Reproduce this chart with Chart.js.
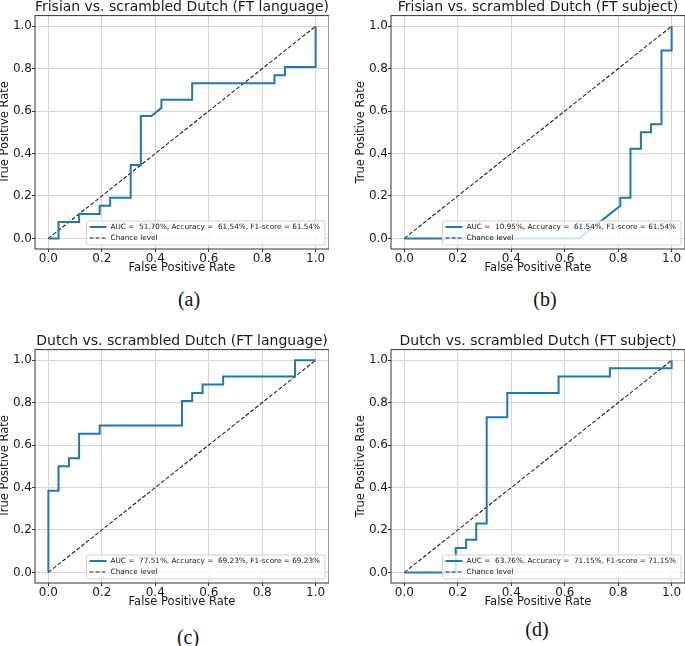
<!DOCTYPE html>
<html>
<head>
<meta charset="utf-8">
<script src="https://cdn.jsdelivr.net/npm/chart.js@4.4.1/dist/chart.umd.min.js"></script>
<style>
  body { margin: 0; background: #fff; }
  #fig { position: relative; width: 685px; height: 646px; overflow: hidden; }
  canvas { position: absolute; }
  .cap { position: absolute; width: 60px; text-align: center; font: 20px "Liberation Serif", serif; color: #111; }
</style>
</head>
<body>
<div id="fig">
  <canvas id="rocA" width="331" height="279" style="left:-2px;top:0px;width:331px;height:279px"></canvas>
  <canvas id="rocB" width="331" height="279" style="left:354px;top:0px;width:331px;height:279px"></canvas>
  <canvas id="rocC" width="331" height="279" style="left:-2px;top:334px;width:331px;height:279px"></canvas>
  <canvas id="rocD" width="331" height="279" style="left:354px;top:334px;width:331px;height:279px"></canvas>
  <div class="cap" style="left:159px;top:288px">(a)</div>
  <div class="cap" style="left:515px;top:288px">(b)</div>
  <div class="cap" style="left:158px;top:626px">(c)</div>
  <div class="cap" style="left:507px;top:618px">(d)</div>
</div>
<script>
// ROC curve points
const fprA = [0, 0.038, 0.038, 0.115, 0.115, 0.192, 0.192, 0.231, 0.231, 0.308, 0.308, 0.346, 0.346, 0.385, 0.423, 0.423, 0.538, 0.538, 0.846, 0.846, 0.885, 0.885, 1.0, 1.0];
const tprA = [0, 0, 0.077, 0.077, 0.115, 0.115, 0.154, 0.154, 0.192, 0.192, 0.346, 0.346, 0.577, 0.577, 0.615, 0.654, 0.654, 0.731, 0.731, 0.769, 0.769, 0.808, 0.808, 1.0];

const fprB = [0, 0.654, 0.808, 0.808, 0.846, 0.846, 0.885, 0.885, 0.923, 0.923, 0.962, 0.962, 1.0, 1.0];
const tprB = [0, 0, 0.154, 0.192, 0.192, 0.423, 0.423, 0.5, 0.5, 0.538, 0.538, 0.885, 0.885, 1.0];

const fprC = [0, 0, 0.038, 0.038, 0.077, 0.077, 0.115, 0.115, 0.192, 0.192, 0.5, 0.5, 0.538, 0.538, 0.577, 0.577, 0.654, 0.654, 0.923, 0.923, 1.0];
const tprC = [0, 0.385, 0.385, 0.5, 0.5, 0.538, 0.538, 0.654, 0.654, 0.692, 0.692, 0.808, 0.808, 0.846, 0.846, 0.885, 0.885, 0.923, 0.923, 1.0, 1.0];

const fprD = [0, 0.192, 0.192, 0.231, 0.231, 0.269, 0.269, 0.308, 0.308, 0.385, 0.385, 0.577, 0.577, 0.769, 0.769, 1.0, 1.0];
const tprD = [0, 0, 0.115, 0.115, 0.154, 0.154, 0.231, 0.231, 0.731, 0.731, 0.846, 0.846, 0.923, 0.923, 0.962, 0.962, 1.0];

const chanceX = [0, 1];
const chanceY = [0, 1];

const titles = [
  "Frisian vs. scrambled Dutch (FT language)",
  "Frisian vs. scrambled Dutch (FT subject)",
  "Dutch vs. scrambled Dutch (FT language)",
  "Dutch vs. scrambled Dutch (FT subject)"
];
const aucs = ["51.70", "10.95", "77.51", "63.76"];
const accuracies = ["61.54", "61.54", "69.23", "71.15"];
const f1Scores = ["61.54", "61.54", "69.23", "71.15"];

const tickValues = [0, 0.2, 0.4, 0.6, 0.8, 1.0];

const toPoints = (xs, ys) => xs.map((x, i) => ({ x: x, y: ys[i] }));

// box round the plot area, like matplotlib spines
const frame = {
  id: "frame",
  afterDatasetsDraw(chart) {
    const { ctx, chartArea: a } = chart;
    ctx.save();
    ctx.strokeStyle = "#333";
    ctx.lineWidth = 1;
    ctx.strokeRect(a.left, a.top, a.right - a.left, a.bottom - a.top);
    ctx.restore();
  }
};

// legend in the lower right corner, inside the axes
const innerLegend = {
  id: "innerLegend",
  afterDatasetsDraw(chart) {
    const { ctx, chartArea: a } = chart;
    const sets = chart.data.datasets;
    ctx.save();
    ctx.font = "7.3px 'DejaVu Sans'";
    const textW = Math.max(...sets.map((d) => ctx.measureText(d.label).width));
    const w = textW + 29;
    const h = 24;
    const x = a.right - 4 - w;
    const y = a.bottom - 4 - h;
    ctx.beginPath();
    ctx.roundRect(x, y, w, h, 2);
    ctx.fillStyle = "rgba(255,255,255,0.8)";
    ctx.fill();
    ctx.strokeStyle = "#d0d0d0";
    ctx.lineWidth = 1;
    ctx.stroke();
    sets.forEach((d, i) => {
      const ly = y + 6 + i * 11;
      ctx.beginPath();
      ctx.strokeStyle = d.borderColor;
      ctx.lineWidth = d.borderWidth;
      ctx.setLineDash(d.borderDash || []);
      ctx.moveTo(x + 3, ly);
      ctx.lineTo(x + 20, ly);
      ctx.stroke();
      ctx.setLineDash([]);
      ctx.fillStyle = "#1a1a1a";
      ctx.textBaseline = "middle";
      ctx.fillText(d.label, x + 24, ly + 0.5);
    });
    ctx.restore();
  }
};

const axisOptions = (titleText, isX) => ({
  type: "linear",
  min: -0.05,
  max: 1.05,
  afterBuildTicks: (scale) => {
    scale.ticks = tickValues.map((v) => ({ value: v }));
  },
  afterFit: (scale) => {
    if (isX) scale.height = 30;
    else scale.width = 37;
  },
  border: { display: false },
  grid: {
    color: "#d6d6d6",
    lineWidth: 1,
    drawTicks: true,
    tickLength: 3,
    tickColor: "#333"
  },
  ticks: {
    autoSkip: false,
    maxRotation: 0,
    padding: 0,
    color: "#1a1a1a",
    font: { family: "'DejaVu Sans'", size: 12 },
    callback: (v) => Number(v).toFixed(1)
  },
  title: {
    display: true,
    text: titleText,
    color: "#1a1a1a",
    font: { family: "'DejaVu Sans'", size: 11.5 },
    padding: isX ? { top: 0, bottom: 4 } : { top: 0, bottom: 0 }
  }
});

const makeRoc = (canvasId, idx, fpr, tpr) => {
  const ctx = document.getElementById(canvasId).getContext("2d");
  new Chart(ctx, {
    type: "scatter",
    data: {
      datasets: [
        {
          label: `AUC =  ${aucs[idx]}%, Accuracy =  ${accuracies[idx]}%, F1-score = ${f1Scores[idx]}%`,
          data: toPoints(fpr, tpr),
          showLine: true,
          borderColor: "#1f77b4",
          borderWidth: 2,
          pointRadius: 0,
          tension: 0
        },
        {
          label: "Chance level",
          data: toPoints(chanceX, chanceY),
          showLine: true,
          borderColor: "#222",
          borderWidth: 1.1,
          borderDash: [4, 2],
          pointRadius: 0
        }
      ]
    },
    options: {
      responsive: false,
      animation: false,
      devicePixelRatio: 1,
      layout: { padding: 0 },
      scales: {
        x: axisOptions("False Positive Rate", true),
        y: axisOptions("True Positive Rate", false)
      },
      plugins: {
        legend: { display: false },
        tooltip: { enabled: false },
        title: {
          display: true,
          text: titles[idx],
          fullSize: false,
          color: "#1a1a1a",
          font: { family: "'DejaVu Sans'", size: 14, weight: "normal", lineHeight: 1.115 },
          padding: { top: 0, bottom: 0 }
        }
      }
    },
    plugins: [frame, innerLegend]
  });
};

makeRoc("rocA", 0, fprA, tprA);
makeRoc("rocB", 1, fprB, tprB);
makeRoc("rocC", 2, fprC, tprC);
makeRoc("rocD", 3, fprD, tprD);
</script>
</body>
</html>
